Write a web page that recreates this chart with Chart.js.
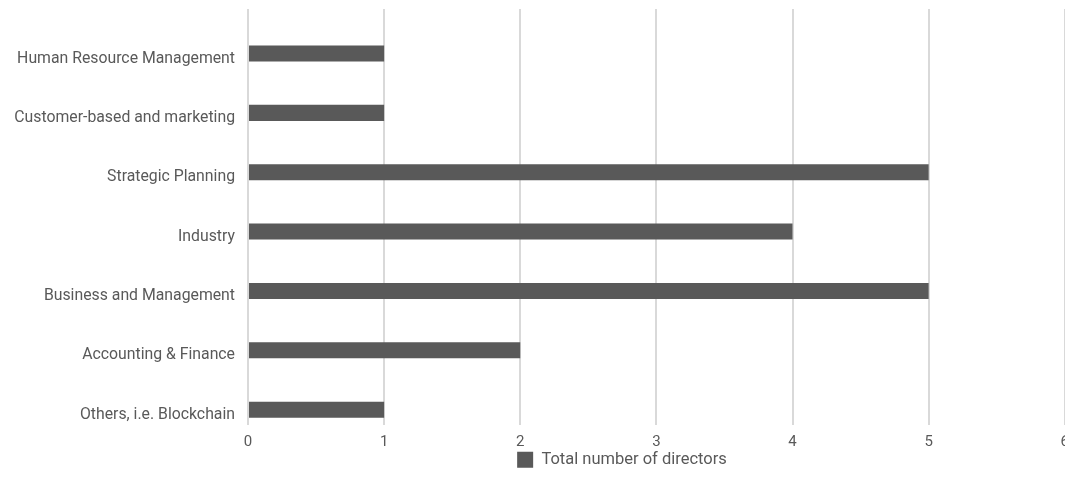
<!DOCTYPE html>
<html>
<head>
<meta charset="utf-8">
<script src="https://cdn.jsdelivr.net/npm/chart.js@4.4.1/dist/chart.umd.min.js"></script>
<style>
    html, body { margin: 0; padding: 0; background: #fff; overflow: hidden; }
    .wrap { width: 1078px; height: 497px; }
</style>
</head>
<body>
<div class="wrap">
    <canvas id="skillsChart" width="1078" height="497"></canvas>
</div>
<script>
const categories = [
    'Human Resource Management',
    'Customer-based and marketing',
    'Strategic Planning',
    'Industry',
    'Business and Management',
    'Accounting & Finance',
    'Others, i.e. Blockchain'
];
const directorCounts = [1, 1, 5, 4, 5, 2, 1];
// empty placeholder series, the original chart keeps a blank slot above each bar
const blankSeries = [null, null, null, null, null, null, null];
const tickValues = [0, 1, 2, 3, 4, 5, 6];

const textColor = '#595959';
const barColor = '#595959';
const gridColor = '#d9d9d9';
const fontFamily = 'Roboto';

const legendShift = {
    id: 'legendShift',
    afterLayout (chart) {
        chart.legend.left += 83;
        chart.legend.right += 83;
    }
};

const ctx = document.getElementById('skillsChart').getContext('2d');

new Chart(ctx, {
    type: 'bar',
    data: {
        labels: categories,
        datasets: [{
            label: 'blank',
            data: blankSeries,
            backgroundColor: 'rgba(0,0,0,0)'
        }, {
            label: 'Total number of directors',
            data: directorCounts,
            backgroundColor: barColor
        }]
    },
    options: {
        indexAxis: 'y',
        responsive: false,
        animation: false,
        categoryPercentage: 1.0,
        barPercentage: 0.54,
        layout: {
            padding: { top: 9, bottom: 19, left: 0, right: 0 }
        },
        plugins: {
            legend: {
                position: 'bottom',
                labels: {
                    filter: item => item.text !== 'blank',
                    boxWidth: 16,
                    boxHeight: 16,
                    padding: 1,
                    color: textColor,
                    font: { family: fontFamily, size: 16.5 }
                }
            },
            tooltip: { enabled: false }
        },
        scales: {
            x: {
                min: 0,
                max: 6,
                afterBuildTicks: scale => {
                    scale.ticks = tickValues.map(v => ({ value: v }));
                },
                afterFit: scale => { scale.height = 26; },
                grid: {
                    color: gridColor,
                    lineWidth: 2,
                    drawTicks: false
                },
                border: { display: false },
                ticks: {
                    padding: 9,
                    color: textColor,
                    font: { family: fontFamily, size: 15 }
                }
            },
            y: {
                afterFit: scale => {
                    scale.width = 248;
                    scale.paddingTop = 0;
                    scale.paddingBottom = 0;
                },
                grid: { display: false, drawTicks: false },
                border: { display: false },
                ticks: {
                    padding: 13,
                    labelOffset: 20,
                    color: textColor,
                    font: { family: fontFamily, size: 15.8 }
                }
            }
        }
    },
    plugins: [legendShift]
});
</script>
</body>
</html>
